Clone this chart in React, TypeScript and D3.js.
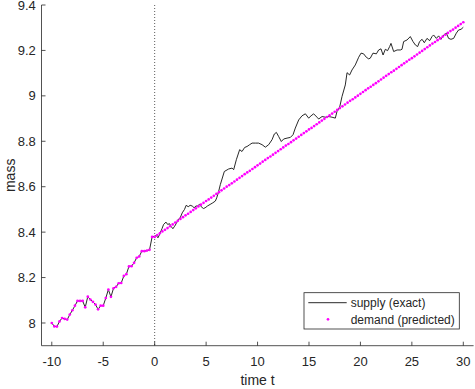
import React from "react";
import * as d3 from "d3";

const W = 475;
const H = 389;

const xTicks = [-10, -5, 0, 5, 10, 15, 20, 25, 30];
const yTicks = [8, 8.2, 8.4, 8.6, 8.8, 9, 9.2, 9.4];

// history (t = -10 .. 0, step 0.25): measured and shown by both series
const histTime = d3.range(-10, 0.001, 0.25);
const histMass = [
  8.0, 7.985, 7.984, 8.007, 8.022, 8.018, 8.015, 8.037, 8.056, 8.076, 8.097,
  8.097, 8.097, 8.069, 8.116, 8.103, 8.093, 8.081, 8.06, 8.076, 8.076, 8.11,
  8.147, 8.115, 8.153, 8.159, 8.175, 8.176, 8.207, 8.215, 8.249, 8.25, 8.265,
  8.287, 8.293, 8.316, 8.316, 8.319, 8.322, 8.379, 8.382,
];

// supply (exact) for t > 0
const supplyTime = [
  0.16, 0.32, 0.48, 0.71, 0.87, 1.1, 1.26, 1.45, 1.58, 1.77, 1.94, 2.1, 2.29,
  2.48, 2.68, 2.9, 3.06, 3.26, 3.45, 3.65, 3.84, 4.0, 4.16, 4.35, 4.52, 4.74,
  4.9, 5.13, 5.39, 5.65, 5.9, 6.03, 6.19, 6.38, 6.77, 7.19, 7.52, 7.68, 7.94,
  8.26, 8.49, 8.75, 8.98, 9.23, 9.47, 9.79, 10.1, 10.44, 10.76, 11.08, 11.41,
  11.63, 11.83, 12.05, 12.31, 12.54, 12.87, 13.19, 13.45, 13.67, 14.0, 14.32,
  14.65, 14.97, 15.2, 15.45, 15.78, 15.94, 16.27, 16.59, 16.91, 17.24, 17.56,
  17.72, 17.98, 18.21, 18.53, 18.7, 18.95, 19.18, 19.5, 19.83, 20.06, 20.31,
  20.57, 20.8, 20.96, 21.22, 21.55, 21.77, 22.0, 22.2, 22.42, 22.64, 22.84,
  22.97, 23.23, 23.56, 23.88, 24.04, 24.2, 24.53, 24.85, 25.11, 25.34, 25.56,
  25.75, 25.99, 26.21, 26.47, 26.73, 26.96, 27.11, 27.38, 27.6, 27.83, 28.09,
  28.35, 28.57, 28.8, 29.06, 29.32, 29.54, 29.78, 30.0,
];
const supplyMass = [
  8.385, 8.375, 8.39, 8.415, 8.434, 8.444, 8.434, 8.437, 8.426, 8.415, 8.426,
  8.438, 8.456, 8.463, 8.485, 8.5, 8.518, 8.512, 8.518, 8.515, 8.507, 8.515,
  8.515, 8.522, 8.512, 8.504, 8.507, 8.515, 8.522, 8.529, 8.537, 8.551, 8.574,
  8.609, 8.667, 8.678, 8.682, 8.675, 8.719, 8.763, 8.755, 8.773, 8.777, 8.785,
  8.792, 8.792, 8.792, 8.785, 8.774, 8.785, 8.807, 8.832, 8.839, 8.821, 8.799,
  8.81, 8.814, 8.817, 8.829, 8.858, 8.894, 8.912, 8.921, 8.902, 8.912, 8.921,
  8.906, 8.898, 8.909, 8.906, 8.909, 8.906, 8.902, 8.931, 8.95, 8.997, 9.048,
  9.102, 9.092, 9.114, 9.136, 9.17, 9.188, 9.185, 9.17, 9.163, 9.166, 9.188,
  9.185, 9.202, 9.207, 9.18, 9.205, 9.199, 9.217, 9.231, 9.195, 9.202, 9.202,
  9.205, 9.239, 9.246, 9.261, 9.239, 9.224, 9.217, 9.239, 9.249, 9.234, 9.253,
  9.243, 9.261, 9.268, 9.253, 9.264, 9.249, 9.268, 9.276, 9.253, 9.249, 9.253,
  9.276, 9.29, 9.293, 9.302,
];

// demand (predicted) for t = 0 .. 30, step 0.25
const predTime = d3.range(0, 30.001, 0.25);
const predMass = [
  8.379, 8.387, 8.395, 8.403, 8.41, 8.418, 8.426, 8.434, 8.442, 8.45, 8.458,
  8.466, 8.474, 8.481, 8.489, 8.497, 8.505, 8.513, 8.521, 8.529, 8.537, 8.544,
  8.552, 8.56, 8.568, 8.576, 8.584, 8.592, 8.6, 8.607, 8.615, 8.623, 8.631,
  8.639, 8.647, 8.655, 8.663, 8.67, 8.678, 8.686, 8.694, 8.702, 8.71, 8.718,
  8.726, 8.733, 8.741, 8.749, 8.757, 8.765, 8.773, 8.781, 8.788, 8.796, 8.804,
  8.812, 8.82, 8.828, 8.836, 8.844, 8.852, 8.859, 8.867, 8.875, 8.883, 8.891,
  8.899, 8.907, 8.914, 8.922, 8.93, 8.938, 8.946, 8.954, 8.962, 8.97, 8.978,
  8.985, 8.993, 9.001, 9.009, 9.017, 9.025, 9.033, 9.04, 9.048, 9.056, 9.064,
  9.072, 9.08, 9.088, 9.096, 9.104, 9.111, 9.119, 9.127, 9.135, 9.143, 9.151,
  9.159, 9.166, 9.174, 9.182, 9.19, 9.198, 9.206, 9.214, 9.222, 9.23, 9.237,
  9.245, 9.253, 9.261, 9.269, 9.277, 9.285, 9.292, 9.3, 9.308, 9.316, 9.324,
];

const legendLabels = ["supply (exact)", "demand (predicted)"];

const FONT = "'Liberation Sans', Arial, Helvetica, sans-serif";
const AXIS = "#262626";
const MAGENTA = "#ff00ff";

export default function App() {
  const left = 41.5;
  const right = 473.6;
  const top = 5;
  const bottom = 345.7;

  const x = d3.scaleLinear().domain([-11, 31]).range([left, right]);
  const y = d3.scaleLinear().domain([7.9, 9.4]).range([bottom, top]);

  const supplyPts: [number, number][] = [
    ...histTime.map((t, i) => [t, histMass[i]] as [number, number]),
    ...supplyTime.map((t, i) => [t, supplyMass[i]] as [number, number]),
  ];
  const line = d3
    .line<[number, number]>()
    .x((d) => x(d[0]))
    .y((d) => y(d[1]));

  const demandPts: [number, number][] = [
    ...histTime.slice(0, -1).map((t, i) => [t, histMass[i]] as [number, number]),
    ...predTime.map((t, i) => [t, predMass[i]] as [number, number]),
  ];

  const fmt = (v: number) => String(Math.round(v * 10) / 10);

  const lgX = 304;
  const lgY = 292.7;
  const lgW = 155.3;
  const lgH = 36.3;

  return (
    <svg
      width={W}
      height={H}
      style={{ position: "absolute", left: 0, top: 0, background: "#fff" }}
      fontFamily={FONT}
    >
      <rect x={0} y={0} width={W} height={H} fill="#fff" />
      {/* vertical dotted line at t = 0 */}
      <line
        x1={x(0)}
        x2={x(0)}
        y1={top}
        y2={bottom}
        stroke="#333"
        strokeWidth={0.8}
        strokeDasharray="1,2"
      />
      {/* supply line */}
      <path d={line(supplyPts) || ""} fill="none" stroke="#111" strokeWidth={0.9} />
      {/* demand dots */}
      {demandPts.map((d, i) => (
        <circle key={i} cx={x(d[0])} cy={y(d[1])} r={1.35} fill={MAGENTA} />
      ))}

      {/* axes */}
      <line x1={left} x2={left} y1={top} y2={bottom} stroke={AXIS} strokeWidth={0.8} />
      <line x1={left} x2={right} y1={bottom} y2={bottom} stroke={AXIS} strokeWidth={0.8} />
      {xTicks.map((t) => (
        <g key={"x" + t}>
          <line x1={x(t)} x2={x(t)} y1={bottom} y2={bottom - 4} stroke={AXIS} strokeWidth={0.8} />
          <text x={x(t)} y={365.5} textAnchor="middle" fontSize={13} fill={AXIS}>
            {t}
          </text>
        </g>
      ))}
      {yTicks.map((v) => (
        <g key={"y" + v}>
          <line x1={left} x2={left + 4} y1={y(v)} y2={y(v)} stroke={AXIS} strokeWidth={0.8} />
          <text
            x={35.8}
            y={y(v)}
            dy="0.35em"
            textAnchor="end"
            fontSize={13}
            fill={AXIS}
          >
            {fmt(v)}
          </text>
        </g>
      ))}
      <text x={(left + right) / 2} y={385} textAnchor="middle" fontSize={14} fill={AXIS}>
        time t
      </text>
      <text
        transform={`translate(14.5, ${(top + bottom) / 2}) rotate(-90)`}
        textAnchor="middle"
        fontSize={14}
        fill={AXIS}
      >
        mass
      </text>

      {/* legend */}
      <rect x={lgX} y={lgY} width={lgW} height={lgH} fill="#fff" stroke={AXIS} strokeWidth={0.8} />
      <line x1={308.3} x2={346.7} y1={302.7} y2={302.7} stroke="#111" strokeWidth={0.9} />
      <circle cx={328} cy={319.3} r={1.35} fill={MAGENTA} />
      <text x={350.7} y={302.7} dy="0.35em" fontSize={12} fill={AXIS}>
        {legendLabels[0]}
      </text>
      <text x={350.7} y={319.3} dy="0.35em" fontSize={12} fill={AXIS}>
        {legendLabels[1]}
      </text>
    </svg>
  );
}
